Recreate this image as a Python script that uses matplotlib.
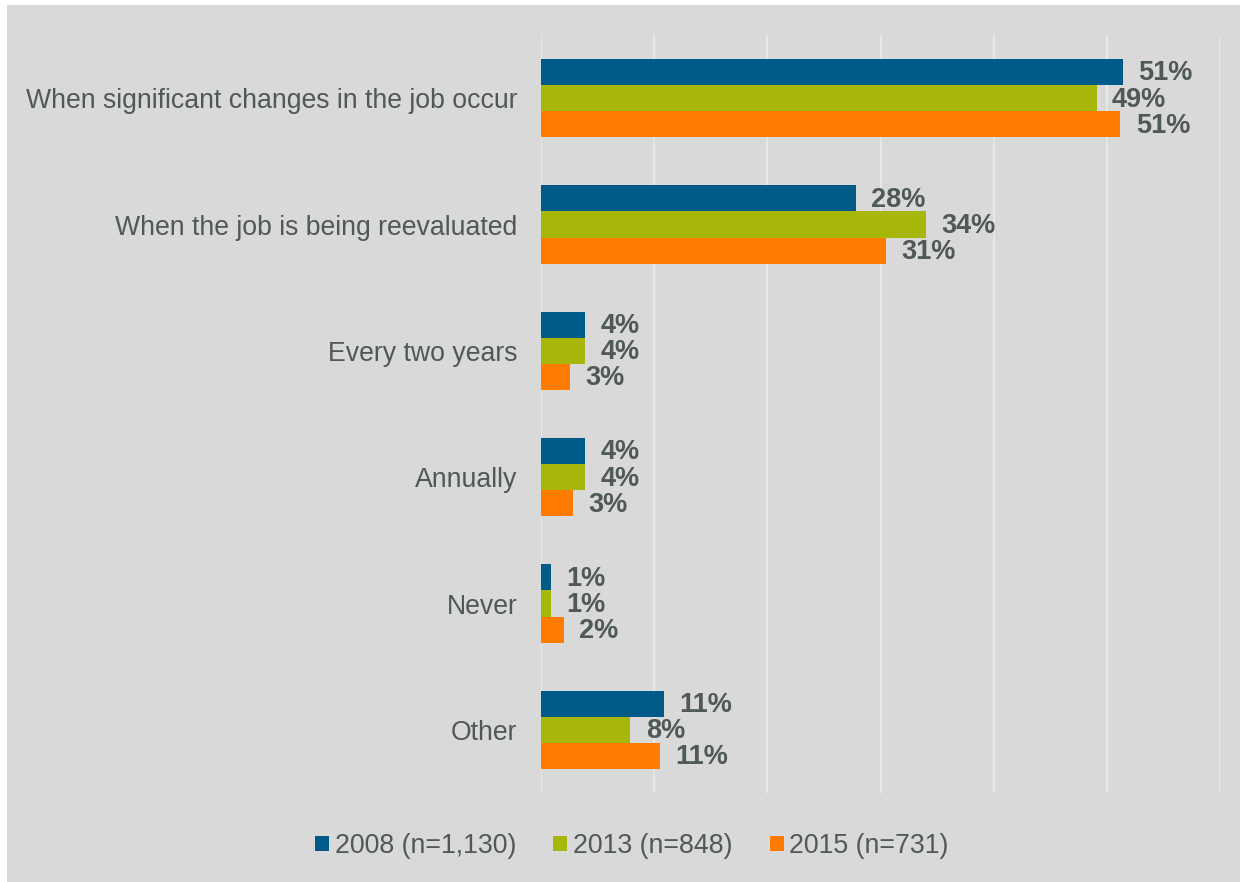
import matplotlib
matplotlib.use("Agg")
from matplotlib import pyplot as plt
from matplotlib.patches import Patch, Rectangle
import numpy as np

plt.rcParams['font.family'] = ['Liberation Sans', 'DejaVu Sans']

categories = ["When significant changes in the job occur",
              "When the job is being reevaluated",
              "Every two years",
              "Annually",
              "Never",
              "Other"]
series_names = ["2008 (n=1,130)", "2013 (n=848)", "2015 (n=731)"]
v2008 = [51.4, 27.8, 3.9, 3.9, 0.9, 10.9]
v2013 = [49.1, 34.0, 3.9, 3.9, 0.9, 7.9]
v2015 = [51.2, 30.5, 2.6, 2.8, 2.0, 10.5]
lab2008 = ["51%", "28%", "4%", "4%", "1%", "11%"]
lab2013 = ["49%", "34%", "4%", "4%", "1%", "8%"]
lab2015 = ["51%", "31%", "3%", "3%", "2%", "11%"]

colors = ["#005A87", "#A7B709", "#FF7C00"]
txt = "#4F5957"
bg = "#D9D9D9"

fig = plt.figure(figsize=(12.4, 8.82), dpi=100, facecolor="white")
fig.patches.append(Rectangle((7/1240, 0), 1, 1 - 5/882, transform=fig.transFigure,
                             facecolor=bg, edgecolor="none", zorder=-10))
ax = fig.add_axes([541/1240, 1 - 793/882, (1220 - 541)/1240, (793 - 35)/882])
ax.set_facecolor(bg)

y = np.arange(len(categories))
h = 0.207
for k, (vals, labs) in enumerate([(v2008, lab2008), (v2013, lab2013), (v2015, lab2015)]):
    pos = y + (k - 1) * h
    ax.barh(pos, vals, height=h, color=colors[k], zorder=3)
    for p, v, l in zip(pos, vals, labs):
        ax.annotate(l, (v, p), xytext=(11, -1), textcoords="offset points",
                    ha="left", va="center", fontsize=19.5, fontweight="bold", color=txt)

ax.set_xlim(0, 60)
ax.set_ylim(len(categories) - 0.5, -0.5)
ax.set_xticks(np.arange(0, 61, 10))
ax.set_xticklabels([])
ax.set_yticks(y)
ax.set_yticklabels(categories, fontsize=19.2, color=txt)
ax.tick_params(axis="both", length=0)
ax.tick_params(axis="y", pad=17)
ax.grid(axis="x", color="#EBEBEB", lw=1.2, zorder=0)
for s in ax.spines.values():
    s.set_visible(False)

handles = [Patch(facecolor=c, edgecolor="none") for c in colors]
fig.legend(handles, series_names, loc="center", bbox_to_anchor=(632/1240, 1 - 846/882),
           ncol=3, frameon=False, labelcolor=txt, fontsize=19.3,
           handlelength=0.52, handleheight=0.52, handletextpad=0.22, columnspacing=1.38)

fig.savefig("out.png", dpi=100, facecolor=fig.get_facecolor())
